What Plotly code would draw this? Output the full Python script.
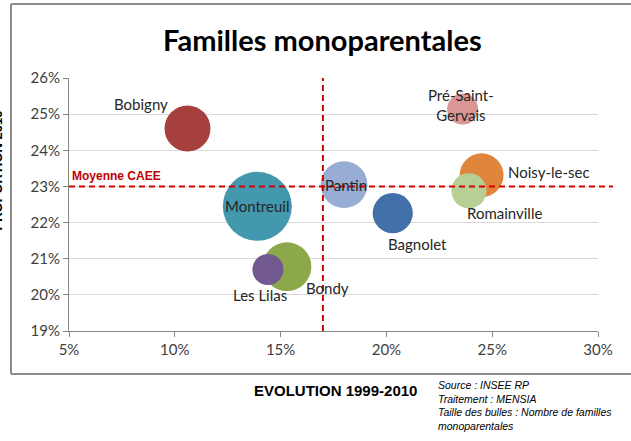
import plotly.graph_objects as go

# ---- data ----
communes = ["Bobigny", "Montreuil", "Pantin", "Bagnolet", "Pré-Saint-<br>Gervais",
            "Noisy-le-sec", "Romainville", "Bondy", "Les Lilas"]
evolution = [10.6, 13.9, 18.0, 20.3, 23.6, 24.5, 23.9, 15.3, 14.4]      # x, %
part_2010 = [24.6, 22.45, 23.05, 22.26, 25.14, 23.31, 22.88, 20.78, 20.7]  # y, %
familles = [2750, 6200, 2850, 2100, 1250, 2500, 1600, 3100, 1250]       # bubble size
moyenne_x = 17
moyenne_y = 23
x_ticks = [5, 10, 15, 20, 25, 30]
y_ticks = [19, 20, 21, 22, 23, 24, 25, 26]

# ---- styles ----
colors = ["#A5403F", "#4398AE", "#97ADD3", "#4270A8", "#D99694",
          "#E0853C", "#B7CF94", "#8CA84B", "#71598F"]
label_dx = [-47, 0, 2, 25, -2, 67, 36, 41, -8]
label_dy = [25, 0, 0, -31, 4, 3, -22, -21, -25]
draw_order = [0, 1, 2, 3, 4, 5, 6, 7, 8]

W, H = 631, 441
ML, MR, MT, MB = 69, 33, 78, 110
PW, PH = W - ML - MR, H - MT - MB


def px(xp):
    return (xp - ML) / PW


def py(yp):
    return (H - MB - yp) / PH


max_d = 69
sizeref = 2 * max(familles) / (max_d ** 2)

fig = go.Figure()
fig.add_trace(go.Scatter(
    x=[evolution[i] for i in draw_order],
    y=[part_2010[i] for i in draw_order],
    mode="markers",
    marker=dict(size=[familles[i] for i in draw_order], sizemode="area", sizeref=sizeref,
                color=[colors[i] for i in draw_order], opacity=1, line=dict(width=0)),
    hovertext=communes, hoverinfo="text", showlegend=False,
))

annotations = []
for i, name in enumerate(communes):
    annotations.append(dict(
        x=evolution[i], y=part_2010[i], xref="x", yref="y", text=name,
        showarrow=False, xshift=label_dx[i], yshift=label_dy[i],
        xanchor="center", yanchor="middle",
        font=dict(family="Lato", size=15, color="#262626"),
    ))

annotations += [
    dict(text="Familles monoparentales", x=px(322), y=py(40), xref="paper", yref="paper",
         xanchor="center", yanchor="middle", showarrow=False,
         font=dict(family="Lato", size=29, color="black", weight="bold")),
    dict(text="Moyenne CAEE", x=px(70), y=moyenne_y, xref="paper", yref="y",
         xanchor="left", yanchor="bottom", yshift=1, showarrow=False,
         font=dict(family="Liberation Sans", size=12, color="#C00000", weight="bold")),
    dict(text="EVOLUTION 1999-2010", x=px(252), y=py(390), xref="paper", yref="paper",
         xanchor="left", yanchor="middle", showarrow=False,
         font=dict(family="Liberation Sans", size=15, color="black", weight="bold")),
    dict(text="<i>Source : INSEE RP<br>Traitement : MENSIA<br>Taille des bulles : Nombre de familles<br>monoparentales</i>",
         x=px(436), y=py(377), xref="paper", yref="paper", xanchor="left", yanchor="top",
         align="left", showarrow=False,
         font=dict(family="Liberation Sans", size=10.5, color="black")),
    dict(text="PROPORTION 2010", x=px(6), y=py(171), xref="paper", yref="paper",
         xanchor="right", yanchor="middle", textangle=-90, showarrow=False,
         font=dict(family="Liberation Sans", size=13, color="black", weight="bold")),
]

dash_line = dict(color="#D40000", width=2, dash="6px,4px")
shapes = [
    # chart frame
    dict(type="line", xref="paper", yref="paper", x0=px(11), x1=px(640), y0=py(4), y1=py(4),
         line=dict(color="#8C8C8C", width=2)),
    dict(type="line", xref="paper", yref="paper", x0=px(11), x1=px(640), y0=py(374), y1=py(374),
         line=dict(color="#8C8C8C", width=2)),
    dict(type="line", xref="paper", yref="paper", x0=px(11), x1=px(11), y0=py(4), y1=py(374),
         line=dict(color="#8C8C8C", width=2)),
    # average lines
    dict(type="line", xref="x", yref="paper", x0=moyenne_x, x1=moyenne_x, y0=0, y1=1,
         line=dash_line, layer="above"),
    dict(type="line", xref="paper", yref="y", x0=0, x1=px(613), y0=moyenne_y, y1=moyenne_y,
         line=dash_line, layer="above"),
]

fig.update_layout(
    width=W, height=H,
    margin=dict(l=ML, r=MR, t=MT, b=MB),
    paper_bgcolor="white", plot_bgcolor="white",
    annotations=annotations, shapes=shapes,
    xaxis=dict(range=[5, 30], tickvals=x_ticks, ticktext=[f"{v}%" for v in x_ticks],
               showgrid=False, zeroline=False, showline=True, linecolor="#868686", linewidth=1,
               ticks="outside", ticklen=5, tickcolor="#868686",
               tickfont=dict(family="Lato", size=15, color="#404040")),
    yaxis=dict(range=[19, 26], tickvals=y_ticks, ticktext=[f"{v}%" for v in y_ticks],
               showgrid=True, gridcolor="#D9D9D9", gridwidth=1, zeroline=False,
               showline=True, linecolor="#868686", linewidth=1,
               ticks="outside", ticklen=5, tickcolor="#868686",
               tickfont=dict(family="Lato", size=15, color="#404040")),
)

fig.write_html("out.html", config={"displayModeBar": False},
               post_script="document.body.style.margin='0';document.body.style.overflow='hidden';")
